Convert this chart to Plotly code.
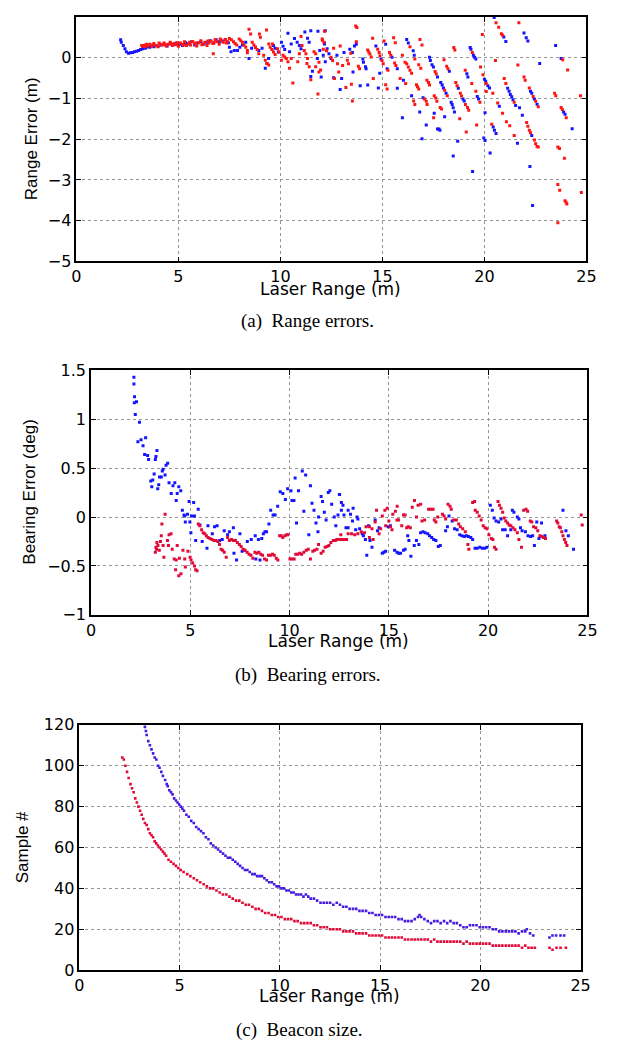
import plotly.graph_objects as go

# ---------------- (a) Range errors: (laser range m, range error m) ----------------
a_blue = [
    (2.17,0.44),(2.2,0.38),(2.3,0.30),(2.38,0.22),(2.45,0.15),(2.55,0.11),(2.65,0.12),
    (2.75,0.13),(2.85,0.15),(2.95,0.16),(3.05,0.18),(3.15,0.20),(3.25,0.22),(3.35,0.24),
    (3.3,0.25),(3.4,0.24),(3.5,0.27),(3.6,0.26),(3.7,0.29),(3.8,0.27),(3.9,0.30),(4.0,0.28),
    (4.15,0.31),(4.3,0.33),(4.45,0.29),(4.6,0.35),(4.75,0.32),(4.9,0.36),(5.05,0.33),(5.2,0.30),
    (5.35,0.37),(5.5,0.34),(5.65,0.39),(5.8,0.31),(5.95,0.36),(6.1,0.40),(6.25,0.34),(6.4,0.38),
    (6.55,0.42),(6.7,0.36),(6.85,0.44),(7.0,0.39),(7.15,0.41),(7.3,0.45),(7.45,0.37),
    (7.5,0.26),(7.58,0.15),(7.74,0.18),(7.9,0.18),(8.01,0.26),(8.14,0.31),(8.3,0.38),(8.46,-0.02),
    (8.59,0.23),(8.78,0.26),(8.94,0.18),(9.1,0.23),(9.26,-0.26),(9.34,-0.14),(9.42,-0.02),
    (9.66,0.30),(9.74,0.23),(9.9,0.14),(10.05,0.38),(10.13,0.28),(10.21,0.20),(10.37,0.60),
    (10.45,0.15),(10.53,0.34),(10.69,0.47),(10.82,0.38),(10.93,0.30),(11.01,0.22),(11.2,0.63),
    (11.33,0.48),(11.41,0.38),(11.49,0.66),(11.57,-0.33),(11.49,-0.46),(11.81,-0.02),(11.93,0.18),
    (12.16,0.36),(12.2,0.66),(12.2,-0.10),
    (11.84,0.65),(12.16,0.34),(12.29,0.22),(12.38,0.10),(12.48,-0.02),(12.61,-0.49),(12.0,-0.47),
    (12.1,0.06),(12.77,0.06),(13.0,-0.51),(13.12,0.13),(12.93,-0.78),(13.4,0.21),(13.53,0.13),
    (13.56,-0.35),(13.63,0.29),(13.72,0.33),(13.91,-0.69),(14.04,-0.03),(14.07,-0.11),(14.17,-0.22),
    (14.2,-0.27),(14.28,-0.67),(14.68,0.29),(14.93,-0.03),(14.8,-0.74),(14.87,-0.38),(15.16,0.33),
    (15.23,-0.27),(15.47,0.01),(15.73,-0.27),(15.73,-0.75),(16.03,-0.55),(15.98,-1.47),(16.19,0.45),
    (16.27,0.36),(16.43,-0.93),(16.51,0.17),(16.56,0.06),(16.83,-1.33),(16.99,-0.98),(16.94,-1.99),
    (17.15,-1.65),(17.31,0.01),(17.35,-0.07),(17.43,-0.17),(17.5,-0.23),(17.7,-0.47),(17.54,-1.36),
    (17.7,-1.75),(17.77,-1.75),(17.82,-1.78),(17.86,-0.61),(17.93,-0.67),(17.99,-0.74),(18.12,-0.87),
    (18.28,-0.33),(18.05,-1.45),(18.37,-1.09),(18.42,-1.15),(18.47,-1.23),(18.53,-1.33),(18.47,-2.41),
    (18.72,-0.75),(18.69,-2.05),(18.95,-1.01),(19.01,-1.06),(19.14,-0.39),(19.19,-0.47),(19.3,0.25),
    (19.34,0.21),(19.46,0.06),(19.52,0.01),(19.58,-0.03),(19.42,-2.79),(19.65,-0.95),(19.71,-1.01),
    (20.0,-0.53),(20.06,-0.58),(20.17,-0.69),(20.25,-0.74),(19.97,-1.97),(20.03,-2.03),(20.03,-1.35),
    (20.28,-2.34),(20.43,-1.70),(20.49,-1.78),(20.57,-1.86),(20.48,0.99),(20.73,-1.19),(20.95,0.51),
    (21.05,0.40),(21.14,-0.75),(21.21,-0.82),(21.27,-0.90),(21.34,-0.96),(21.4,-1.03),(21.53,-1.17),
    (21.62,-2.10),(21.72,-1.23),(21.86,-1.41),(21.94,0.61),(22.05,0.49),(22.13,0.41),(22.32,-1.91),
    (22.26,-0.82),(22.32,-0.87),(22.45,-1.01),(22.58,-1.14),(22.23,-2.67),(22.36,-3.63),(22.71,-0.14),
    (23.49,0.30),(23.76,-0.02),(23.88,-1.33),(23.95,-1.39),(24.3,-1.74),
]
a_red = [
    (3.2,0.30),(3.25,0.28),(3.3,0.30),(3.35,0.27),(3.4,0.31),(3.5,0.29),(3.6,0.33),(3.7,0.28),
    (3.8,0.35),(3.9,0.30),(4.0,0.27),(4.1,0.34),(4.2,0.31),(4.3,0.36),(4.4,0.29),(4.5,0.33),
    (4.6,0.38),(4.7,0.30),(4.8,0.35),(4.9,0.32),(5.0,0.28),(5.1,0.36),(5.2,0.33),(5.3,0.39),
    (5.4,0.30),(5.5,0.35),(5.6,0.31),(5.7,0.40),(5.8,0.34),(5.9,0.29),(6.0,0.37),(6.1,0.42),
    (6.2,0.33),(6.3,0.38),(6.4,0.30),(6.5,0.36),(6.6,0.41),(6.7,0.35),(6.8,0.44),(6.9,0.39),
    (7.0,0.33),(7.1,0.43),(7.2,0.38),(7.3,0.45),(7.4,0.40),
    (3.45,0.33),(3.75,0.31),(4.05,0.36),(4.35,0.32),(4.65,0.34),(4.95,0.37),(5.25,0.31),
    (5.55,0.38),(5.85,0.36),(6.15,0.32),(6.45,0.41),(6.75,0.37),(7.05,0.46),(7.35,0.36),(6.71,0.10),
    (7.5,0.47),(7.6,0.44),(7.7,0.39),(7.78,0.35),(7.86,0.31),(7.98,0.46),(8.06,0.42),(8.14,0.38),
    (8.22,0.31),(8.3,0.26),(8.38,0.18),(8.38,0.12),(8.46,0.70),(8.54,0.58),(8.62,0.38),(8.7,0.31),
    (8.78,0.26),(8.86,0.20),(8.94,0.10),(8.97,0.58),(9.02,0.50),(9.18,0.06),(9.26,-0.06),(9.32,0.68),
    (9.34,-0.14),(9.43,-0.18),(9.43,0.34),(9.5,0.26),(9.58,0.20),(9.61,0.34),(9.66,0.14),(9.74,0.08),
    (9.86,0.22),(9.94,0.14),(10.05,-0.06),(10.13,0.06),(10.21,0.02),(10.29,-0.02),(10.37,-0.10),
    (10.45,-0.26),(10.53,-0.02),(10.61,-0.62),(10.85,-0.10),(10.93,0.10),(11.01,0.52),(11.06,0.30),
    (11.17,0.18),(11.25,0.10),(11.3,-0.14),(11.33,-0.02),(11.41,-0.22),(11.49,-0.54),(11.65,0.15),
    (11.73,0.10),(11.73,-0.22),(11.84,-0.89),(11.97,-0.30),(12.05,0.46),(12.13,0.38),
    (12.16,0.65),(12.06,0.43),(12.1,0.21),(12.26,0.17),(12.48,0.01),(12.56,-0.07),(12.65,-0.51),
    (11.89,-0.35),(11.89,-0.11),(12.61,0.23),(12.8,-0.15),(12.86,-0.35),(12.93,0.29),(13.05,-0.19),
    (13.21,-0.73),(13.28,-0.06),(13.34,-0.15),(13.45,0.11),(13.48,-0.65),(13.53,-1.06),(13.69,0.78),
    (13.75,0.74),(13.72,0.39),(13.82,-0.21),(13.88,-0.27),(14.28,0.19),(14.33,0.14),(14.39,0.09),
    (14.45,0.02),(14.52,0.48),(14.55,-0.51),(14.77,0.21),(14.84,0.13),(14.88,0.05),(14.98,-0.07),
    (15.04,-0.15),(15.08,0.41),(15.27,-0.31),(15.16,-0.66),(15.23,-0.77),(15.35,0.13),(15.41,0.06),
    (15.55,0.49),(15.63,0.37),(15.6,-0.13),(15.66,-0.19),(15.87,-0.51),(15.98,0.06),(16.11,-0.11),
    (16.19,-0.15),(16.27,-0.23),(16.35,-0.31),(16.43,-0.38),(16.14,-0.63),(16.35,0.27),(16.59,-0.03),
    (16.53,-1.06),(16.59,-1.15),(16.67,-0.66),(16.72,-0.71),(16.78,-0.77),(16.78,-0.17),(16.88,-0.26),
    (16.84,0.45),(16.94,0.31),(17.07,-1.01),(17.15,-1.07),(17.19,-1.15),(17.58,-0.34),(17.64,-0.40),
    (17.18,-0.55),(17.26,-0.61),(17.31,-0.67),(17.51,-1.47),(18.05,-0.80),(18.18,-0.93),(17.54,-0.93),
    (17.61,-0.99),(17.67,-1.07),(18.02,-0.05),(18.15,-0.21),(18.21,-0.27),(17.83,-1.22),(17.9,-1.26),
    (18.5,0.25),(18.55,0.19),(18.6,-0.61),(18.66,-0.69),(18.79,-1.50),(18.82,-0.87),(18.88,-0.94),
    (19.07,-1.15),(19.06,-0.31),(19.11,-1.82),(19.17,-1.22),(19.23,-1.29),(19.41,0.13),(19.38,-0.63),
    (19.58,-0.82),(19.62,-1.65),(19.78,-1.09),(19.81,-0.23),(19.9,0.57),(19.93,-0.42),(20.09,-0.63),
    (20.09,-0.83),(20.36,-1.63),(20.41,-0.87),(20.57,0.86),(20.7,0.75),(20.54,-0.07),(20.65,-1.11),
    (20.83,0.59),(20.89,0.55),(20.89,-1.36),(20.97,-0.51),(21.05,-0.63),(21.08,-1.57),(21.46,-1.09),
    (21.24,-1.67),(21.46,-1.91),(21.64,-0.18),(21.69,0.86),(21.94,-0.47),(22.0,-0.55),(22.07,-1.59),
    (22.13,-1.68),(22.2,-1.78),(22.26,-1.84),(22.2,-0.74),(22.39,-0.95),(22.51,-1.07),(22.64,-1.20),
    (22.45,-2.02),(22.51,-2.11),(22.58,-2.18),(22.64,-2.19),(23.44,-0.87),(23.5,-0.93),(23.6,-2.19),
    (23.68,-2.23),(23.6,-3.11),(23.69,-3.25),(23.6,-4.05),(23.84,-0.05),(23.76,-1.22),(23.82,-1.27),
    (24.01,-1.47),(23.92,-2.47),(23.95,-3.51),(24.0,-3.55),(24.04,-3.59),(24.08,-0.30),(24.71,-0.93),
    (24.75,-3.31),
]

# ---------------- (b) Bearing errors: (laser range m, bearing error deg) ----------------
b_blue = [
    (2.16,1.43),(2.16,1.36),(2.19,1.23),(2.18,1.17),(2.29,1.18),(2.23,1.05),(2.44,0.97),(2.36,0.77),
    (2.52,0.79),(2.75,0.81),(2.62,0.73),(2.7,0.64),(2.85,0.63),(2.9,0.59),(3.24,0.59),(3.32,0.68),
    (3.27,0.62),(3.11,0.38),(3.01,0.37),(3.06,0.31),(3.18,0.44),(3.36,0.29),(3.41,0.33),(3.45,0.41),
    (3.54,0.41),(3.59,0.47),(3.63,0.49),(3.73,0.43),(3.78,0.53),(3.86,0.55),(3.93,0.35),(4.04,0.24),
    (4.13,0.32),(4.22,0.35),(4.34,0.24),(4.42,0.31),(4.29,0.17),(4.52,0.27),(4.6,0.07),(4.68,0.02),
    (4.75,-0.05),(4.72,0.01),(4.86,0.03),(4.94,0.16),(4.98,-0.05),(5.06,0.01),(5.03,-0.16),(5.17,0.15),
    (5.21,0.01),(5.27,-0.24),(5.4,0.08),(5.48,-0.08),(5.6,-0.25),(5.84,-0.32),(5.89,-0.09),(6.11,-0.17),
    (6.22,-0.10),(6.35,-0.09),(6.48,-0.24),(6.61,-0.23),(6.71,-0.14),(6.88,-0.18),(6.97,-0.15),
    (7.17,-0.11),(7.2,-0.37),(7.33,-0.44),(7.5,-0.17),(7.61,-0.35),(7.73,-0.34),(7.87,-0.25),
    (8.07,-0.23),(8.27,-0.19),(8.3,-0.43),(8.43,-0.23),(8.51,-0.44),(8.6,-0.22),(8.68,-0.17),
    (8.76,-0.15),(8.84,-0.15),(8.96,-0.07),(9.05,0.07),(9.17,0.02),(9.27,0.02),(9.4,0.11),(9.53,0.26),
    (9.66,0.24),(9.79,0.18),(9.9,0.29),(10.07,0.27),(10.12,0.17),(10.22,0.17),(10.28,0.40),
    (10.35,-0.06),(10.45,0.27),(10.64,0.47),(10.81,0.43),(10.72,0.06),(10.97,-0.18),(11.05,0.32),
    (11.13,0.14),(11.23,0.07),(11.33,-0.06),(11.43,-0.15),(11.46,0.0),(11.59,0.21),(11.66,0.16),
    (11.75,0.05),(11.84,-0.03),(11.95,0.25),(12.03,0.27),(12.12,0.13),(12.25,0.0),(12.33,-0.09),
    (12.44,0.02),(12.52,0.23),(12.61,0.07),(12.69,0.12),
    (12.51,0.23),(12.61,0.15),(12.74,0.02),(12.95,0.07),(13.07,0.03),(13.2,0.09),(13.17,-0.04),
    (13.33,-0.13),(12.84,-0.11),(12.95,-0.11),(13.4,0.0),(13.44,-0.02),(13.53,-0.12),(13.66,-0.17),
    (13.72,-0.19),(13.82,-0.23),(13.89,-0.39),(13.98,-0.09),(14.05,-0.24),(14.15,-0.31),(14.31,-0.03),
    (14.43,-0.14),(14.51,-0.11),(14.67,-0.37),(14.75,-0.36),(14.84,-0.35),(14.97,-0.10),(15.08,-0.09),
    (15.29,-0.34),(15.41,-0.36),(15.49,-0.37),(15.59,-0.37),(15.74,-0.34),(15.82,-0.33),(15.95,-0.19),
    (16.01,-0.24),(16.11,-0.40),(16.28,-0.29),(16.39,-0.24),(16.51,-0.28),(16.6,-0.16),(16.72,-0.15),
    (16.83,-0.16),(16.96,-0.17),(17.05,-0.19),(17.16,-0.21),(17.26,-0.23),(17.37,-0.24),(17.49,-0.30),
    (17.59,-0.29),(17.86,-0.14),(17.95,-0.10),(18.03,0.01),(18.19,-0.04),(18.31,-0.12),(18.44,-0.13),
    (18.57,-0.18),(18.68,-0.19),(18.8,-0.20),(18.9,-0.19),(19.01,-0.20),(19.13,-0.21),(19.22,-0.23),
    (19.34,-0.32),(19.45,-0.32),(19.58,-0.31),(19.71,-0.32),(19.83,-0.32),(19.94,-0.31),(20.11,0.12),
    (20.21,0.07),(20.3,-0.01),(20.4,-0.04),(20.53,-0.05),(20.65,-0.02),(20.73,-0.13),(20.86,-0.13),
    (20.98,-0.19),(21.14,-0.13),(21.22,0.07),(21.3,0.05),(21.47,0.0),(21.55,-0.02),(21.63,-0.11),
    (21.71,-0.14),(21.88,-0.15),(22.01,-0.19),(22.14,-0.20),(22.24,-0.19),(22.33,-0.29),(22.45,-0.05),
    (22.56,-0.22),(22.69,-0.06),(22.86,-0.19),(23.77,0.07),(23.92,-0.14),(24.04,-0.19),(24.3,-0.33),
]
b_red = [
    (3.73,0.03),(3.57,-0.07),(3.54,-0.19),(3.5,-0.25),(3.63,-0.29),(3.93,-0.18),(4.03,-0.17),
    (3.32,-0.26),(3.27,-0.31),(3.24,-0.36),(3.3,-0.33),(3.37,-0.29),(3.44,-0.34),(3.67,-0.41),
    (3.85,-0.24),(3.9,-0.29),(4.09,-0.33),(4.19,-0.43),(4.29,-0.44),(4.34,-0.29),(4.26,-0.54),
    (4.42,-0.60),(4.53,-0.58),(4.45,-0.42),(4.63,-0.34),(4.72,-0.43),(4.75,-0.51),(4.88,-0.35),
    (4.99,-0.41),(5.04,-0.44),(5.12,-0.47),(5.21,-0.50),(5.27,-0.54),(5.34,-0.55),(5.4,-0.07),
    (5.48,-0.09),(5.57,-0.13),(5.65,-0.16),(5.73,-0.17),(5.81,-0.19),(5.89,-0.21),(5.99,-0.22),
    (6.09,-0.23),(6.19,-0.24),(6.29,-0.24),(6.39,-0.25),(6.47,-0.28),(6.55,-0.33),(6.63,-0.34),
    (6.71,-0.36),(6.81,-0.41),(6.88,-0.21),(6.97,-0.24),(7.07,-0.23),(7.17,-0.24),(7.27,-0.24),
    (7.37,-0.26),(7.47,-0.28),(7.56,-0.30),(7.66,-0.33),(7.76,-0.34),(7.86,-0.36),(7.96,-0.38),
    (8.06,-0.39),(8.15,-0.42),(8.25,-0.36),(8.35,-0.37),(8.45,-0.36),(8.55,-0.38),(8.64,-0.39),
    (8.74,-0.43),(8.84,-0.44),(8.94,-0.39),(9.04,-0.39),(9.14,-0.38),(9.23,-0.39),(9.33,-0.42),
    (9.41,-0.44),(9.5,-0.19),(9.58,-0.19),(9.66,-0.21),(9.76,-0.19),(9.86,-0.18),(9.92,-0.18),
    (10.02,-0.43),(10.12,-0.43),(10.23,-0.43),(10.31,-0.38),(10.41,-0.38),(10.51,-0.37),(10.61,-0.38),
    (10.72,-0.36),(10.84,-0.34),(10.94,-0.33),(11.05,-0.43),(11.17,-0.35),(11.26,-0.34),(11.38,-0.33),
    (11.46,-0.28),(11.59,-0.37),(11.69,-0.35),(11.79,-0.31),(11.89,-0.30),(11.98,-0.29),(12.08,-0.26),
    (12.2,-0.24),(12.31,-0.24),(12.41,-0.23),(12.52,-0.23),(12.64,-0.23),(12.74,-0.23),
    (12.38,-0.23),(12.54,-0.23),(12.71,-0.23),(12.87,-0.23),(12.58,-0.18),(12.95,-0.17),(13.12,-0.17),
    (13.28,-0.18),(13.44,-0.17),(13.61,-0.15),(13.77,-0.16),(13.85,-0.10),(14.02,-0.10),(14.15,-0.12),
    (14.02,-0.21),(14.21,-0.23),(14.31,-0.05),(14.38,0.07),(14.51,-0.17),(14.59,-0.12),(14.67,0.01),
    (14.8,0.07),(14.92,0.09),(14.84,-0.09),(15.0,-0.04),(15.08,-0.10),(15.16,-0.13),(15.2,0.03),
    (15.33,0.06),(15.42,0.11),(15.41,-0.03),(15.49,-0.03),(15.65,-0.09),(15.74,0.02),(15.82,0.02),
    (15.9,-0.11),(15.98,-0.10),(16.08,-0.11),(16.18,0.10),(16.29,0.17),(16.39,0.0),(16.47,0.12),
    (16.6,0.13),(16.67,-0.04),(16.8,-0.03),(17.0,0.08),(17.13,0.08),(17.23,0.08),(17.29,-0.03),
    (17.37,-0.05),(17.46,0.0),(17.7,0.03),(17.78,0.01),(17.86,-0.02),(17.98,0.13),(18.08,0.11),
    (18.14,0.08),(18.27,-0.03),(18.4,-0.03),(18.52,-0.07),(18.6,-0.10),(18.72,-0.12),(18.85,-0.15),
    (18.98,-0.28),(19.03,-0.33),(19.22,0.15),(19.32,0.16),(19.35,0.07),(19.45,0.05),(19.55,0.01),
    (19.65,-0.03),(19.75,-0.09),(19.85,-0.11),(19.94,-0.12),(20.04,-0.18),(20.16,-0.22),(20.24,-0.23),
    (20.32,-0.31),(20.4,-0.33),(20.5,0.16),(20.57,0.12),(20.65,0.09),(20.73,0.05),(20.81,-0.01),
    (20.89,-0.04),(20.98,-0.06),(21.06,-0.08),(21.14,-0.09),(21.25,-0.11),(21.35,-0.13),(21.47,-0.16),
    (21.55,-0.23),(21.68,-0.31),(21.79,0.07),(21.91,0.08),(21.99,0.06),(22.12,-0.04),(22.2,-0.05),
    (22.29,-0.10),(22.4,-0.11),(22.5,-0.14),(22.61,-0.19),(22.69,-0.20),(22.79,-0.21),(22.89,-0.22),
    (23.45,-0.04),(23.51,-0.06),(23.58,-0.10),(23.64,-0.11),(23.71,-0.15),(23.77,-0.19),(23.84,-0.23),
    (23.91,-0.26),(23.97,-0.29),(24.69,0.02),(24.74,-0.08),
]

# ---------------- (c) Beacon size: (laser range m, sample #) ----------------
c_upper = [
    (3.27,119),(3.32,117),(3.36,115),(3.44,112),(3.52,110),(3.6,108),(3.68,106),(3.76,104),(3.84,103),
    (3.92,100),(4.0,99),(4.09,97),(4.17,95),(4.28,93),(4.36,91),(4.41,90),(4.49,88),(4.57,87),(4.65,86),
    (4.73,84),(4.82,83),(4.9,82),(4.98,81),(5.06,80),(5.14,79),(5.22,78),(5.34,76),(5.46,75),(5.58,73),
    (5.71,72),(5.83,70),(5.95,69),(6.07,68),(6.19,67),(6.31,65),(6.44,64),(6.56,62),(6.68,61),(6.8,60),
    (6.92,59),(7.04,58),(7.17,57),(7.29,56),(7.41,55),(7.53,55),(7.65,54),(7.78,53),(7.9,52),(8.02,51),
    (8.14,50),(8.26,49),(8.38,49),(8.5,48),(8.63,47),(8.75,47),(8.87,46),(8.99,46),(9.11,46),(9.23,45),
    (9.35,44),(9.47,43),(9.6,43),(9.72,42),(9.84,41),(9.96,41),(10.08,40),(10.2,40),(10.33,39),
    (10.45,39),(10.57,38),(10.69,38),(10.81,37),(10.93,37),(11.06,37),(11.18,36),(11.3,37),(11.42,36),
    (11.54,35),(11.7,35),(11.86,34),(12.03,33),(12.19,33),(12.35,33),(12.51,33),(12.67,32),(12.84,33),
    (13.0,32),(13.16,31),(13.32,31),(13.48,30),(13.65,30),(13.81,30),(13.97,29),(14.13,29),(14.3,29),
    (14.46,28),(14.62,28),(14.78,27),(14.94,27),(15.1,27),(15.27,26),(15.43,26),(15.59,26),(15.75,26),
    (15.92,25),(16.08,25),(16.24,24),(16.4,24),(16.57,24),(16.73,25),(16.89,26),(16.97,27),(17.05,26),
    (17.21,25),(17.38,24),(17.54,23),(17.7,24),(17.86,24),(18.02,23),(18.19,24),(18.35,23),(18.51,24),
    (18.67,23),(18.83,23),(19.0,22),(19.16,21),(19.32,21),(19.48,22),(19.64,22),(19.81,22),(19.97,21),
    (20.13,21),(20.29,21),(20.46,21),(20.62,20),(20.78,20),(20.94,19),(21.1,19),(21.27,19),(21.43,19),
    (21.59,19),(21.75,19),(21.91,18),(22.08,19),(22.24,19),(22.32,20),(22.48,18),(22.64,17),(23.45,16),
    (23.6,17),(23.78,17),(24.0,17),(24.18,17),
]
c_lower = [
    (2.14,104),(2.22,103),(2.3,100),(2.38,97),(2.46,94),(2.55,91),(2.63,89),(2.71,87),(2.79,84),
    (2.87,82),(2.95,80),(3.03,78),(3.11,76),(3.19,74),(3.27,72),(3.36,71),(3.44,69),(3.52,67),(3.6,66),
    (3.68,65),(3.76,63),(3.84,62),(3.92,61),(4.0,60),(4.08,59),(4.17,58),(4.25,57),(4.33,56),(4.45,54),
    (4.57,53),(4.7,52),(4.82,51),(4.94,50),(5.06,49),(5.2,48),(5.38,47),(5.54,46),(5.71,45),(5.87,44),
    (6.03,43),(6.2,42),(6.36,41),(6.52,40),(6.68,40),(6.84,39),(7.0,38),(7.16,37),(7.33,37),(7.49,36),
    (7.65,35),(7.82,34),(7.98,34),(8.14,33),(8.3,32),(8.46,32),(8.63,31),(8.79,30),(8.95,30),(9.11,29),
    (9.27,28),(9.44,28),(9.6,27),(9.76,27),(9.92,26),(10.08,26),(10.25,25),(10.41,25),(10.57,25),
    (10.73,24),(10.89,24),(11.06,23),(11.22,23),(11.38,23),(11.54,23),(11.7,22),(11.86,22),(12.03,21),
    (12.19,21),(12.35,21),(12.51,20),(12.67,20),(12.84,20),(13.0,20),(13.16,19),(13.32,19),(13.48,19),
    (13.65,19),(13.81,18),(13.97,18),(14.13,18),(14.3,18),(14.46,17),(14.62,17),(14.78,17),(14.94,17),
    (15.1,17),(15.27,16),(15.43,16),(15.59,16),(15.75,16),(15.92,16),(16.08,16),(16.24,15),(16.4,15),
    (16.57,15),(16.73,15),(16.89,15),(17.05,15),(17.22,15),(17.38,15),(17.54,14),(17.7,15),(17.86,14),
    (18.02,14),(18.19,14),(18.35,14),(18.51,14),(18.67,14),(18.83,14),(19.0,14),(19.16,13),(19.32,14),
    (19.48,13),(19.64,13),(19.81,13),(19.97,13),(20.13,13),(20.29,13),(20.46,13),(20.62,12),(20.78,12),
    (20.94,12),(21.1,12),(21.27,12),(21.43,12),(21.59,12),(21.75,12),(21.91,12),(22.08,11),(22.24,12),
    (22.4,11),(22.56,11),(22.72,11),(23.45,11),(23.6,10),(23.8,11),(24.0,11),(24.27,11),
]

x_ticks = [0, 5, 10, 15, 20, 25]
a_yticks = [-5, -4, -3, -2, -1, 0, 1]
b_yticks = [-1, -0.5, 0, 0.5, 1, 1.5]
c_yticks = [0, 20, 40, 60, 80, 100, 120]

x_title = "Laser Range (m)"
y_titles = ["Range Error (m)", "Bearing Error (deg)", "Sample #"]
captions = ["(a)\u00a0 Range errors.", "(b)\u00a0 Bearing errors.", "(c)\u00a0 Beacon size."]

BLUE = "rgb(20,20,255)"
RED = "rgb(255,20,20)"
CRIMSON = "rgb(225,10,55)"
PURPLE = "rgb(70,25,225)"

# The page keeps the browser's default 8px body margin, so the figure is made
# 16px smaller than the 621x1053 window and every layout position is offset by 8px.
PAGE_W, PAGE_H, M = 621, 1053, 8
W, H = PAGE_W - 2 * M, PAGE_H - 2 * M


def fx(px):
    return (px - M) / W


def fy(py):
    return 1 - (py - M) / H


fig = go.Figure()


def add(points, color, xa, ya, size=3):
    fig.add_trace(go.Scatter(
        x=[p[0] for p in points], y=[p[1] for p in points], mode="markers",
        marker=dict(symbol="square", size=size, color=color, line=dict(width=0)),
        xaxis=xa, yaxis=ya, showlegend=False, hoverinfo="skip"))


add(a_blue, BLUE, "x", "y")
add(a_red, RED, "x", "y")
add(b_blue, BLUE, "x2", "y2")
add(b_red, CRIMSON, "x2", "y2")
add(c_upper, PURPLE, "x3", "y3", 2.6)
add(c_lower, CRIMSON, "x3", "y3", 2.6)

# plot boxes in page pixels: (left, right, top, bottom)
boxes = [(73, 596, 7, 257), (88, 597, 368, 617), (76, 590, 729, 979)]
yranges = [(-5, 1), (-1, 1.5), (0, 120)]
yticks = [a_yticks, b_yticks, c_yticks]
tickfont = dict(family="DejaVu Sans", size=16, color="black")

common = dict(showline=True, linecolor="black", linewidth=1.6, mirror="ticks",
              ticks="inside", ticklen=5, tickwidth=1, tickcolor="black",
              showgrid=True, gridcolor="rgb(150,150,150)", griddash="dot", gridwidth=1,
              zeroline=False, tickfont=tickfont)

for i, (l, r, t, b) in enumerate(boxes):
    sfx = "" if i == 0 else str(i + 1)
    fig.layout["xaxis" + sfx] = dict(
        domain=[max(0, fx(l)), min(1, fx(r))], range=[0, 25], tickvals=x_ticks,
        anchor="y" + sfx, **common)
    fig.layout["yaxis" + sfx] = dict(
        domain=[max(0, fy(b)), min(1, fy(t))], range=list(yranges[i]), tickvals=yticks[i],
        anchor="x" + sfx, **common)

# axis titles and captions (page pixels)
xt_pos = [(334, 285), (342, 644), (333, 1005)]
yt_pos = [(27, 132), (25, 492), (18, 854)]
cap_pos = [(310, 318), (310, 678), (302, 1040)]
ann = []
for i in range(3):
    ann.append(dict(text=x_title, x=fx(xt_pos[i][0]), y=fy(xt_pos[i][1]),
                    xref="paper", yref="paper", showarrow=False,
                    xanchor="center", yanchor="middle",
                    font=dict(family="DejaVu Sans", size=17, color="black")))
    ann.append(dict(text=y_titles[i], x=fx(yt_pos[i][0]), y=fy(yt_pos[i][1]),
                    xref="paper", yref="paper", showarrow=False, textangle=-90,
                    xanchor="center", yanchor="middle",
                    font=dict(family="Liberation Sans", size=17, color="black")))
    ann.append(dict(text=captions[i], x=fx(cap_pos[i][0]), y=fy(cap_pos[i][1]),
                    xref="paper", yref="paper", showarrow=False,
                    xanchor="center", yanchor="middle",
                    font=dict(family="Liberation Serif", size=19, color="black")))

fig.update_layout(width=W, height=H, margin=dict(l=0, r=0, t=0, b=0),
                  paper_bgcolor="white", plot_bgcolor="white", annotations=ann)

fig.write_html("out.html", config={"displayModeBar": False})
